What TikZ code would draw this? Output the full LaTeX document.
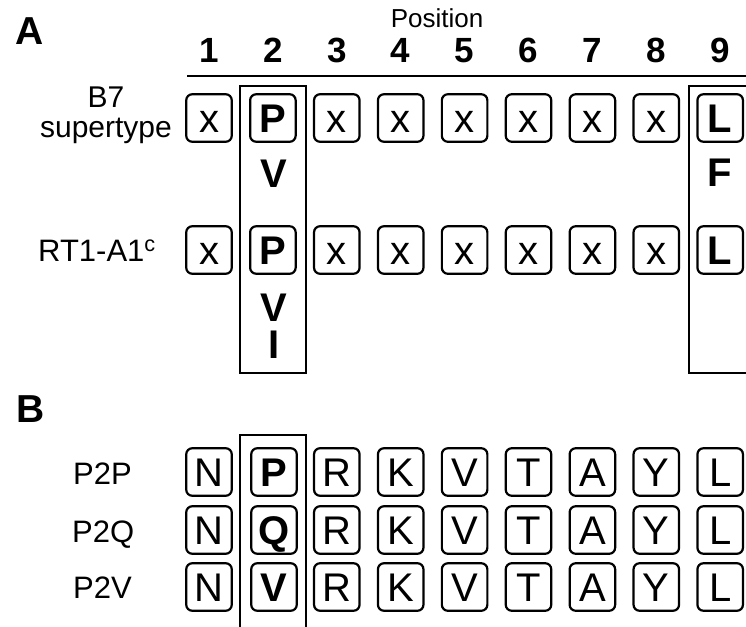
\documentclass[tikz,border=0pt]{standalone}
\usepackage{fontspec}
\setmainfont{Liberation Sans}
\begin{document}
\begin{tikzpicture}[x=1pt,y=-1pt,
  res/.style={draw, line width=2.2pt, rounded corners=6pt,
    minimum width=45.5pt, minimum height=47.5pt, inner sep=0pt,
    text height=28pt, text depth=0pt, font=\fontsize{40}{42}\selectfont},
  keyres/.style={res, font=\fontsize{40}{42}\selectfont\bfseries},
  alt/.style={inner sep=0pt, text height=28pt, text depth=0pt,
    font=\fontsize{40}{42}\selectfont\bfseries},
  panel/.style={inner sep=0pt, anchor=base west, font=\fontsize{39}{40}\selectfont\bfseries},
  posnum/.style={inner sep=0pt, anchor=base, font=\fontsize{35}{36}\selectfont\bfseries},
  rowlabel/.style={inner sep=0pt, anchor=base west, font=\fontsize{31}{33}\selectfont},
  frame/.style={line width=2pt}
]
\useasboundingbox (0,0) rectangle (746,626);
\clip (0,0) rectangle (746,626);

% panel letters
\node[panel] (labA) at (15,45) {A};
\node[panel] (labB) at (16,422) {B};

% position header
\node[inner sep=0pt, anchor=base, font=\fontsize{26}{28}\selectfont] (pos) at (437,28) {Position};
\foreach \i in {1,...,9} {
  \pgfmathsetmacro\cx{209+63.9*(\i-1)}
  \node[posnum] (n\i) at (\cx,63) {\i};
}
\coordinate (ruleL) at (187,76);
\coordinate (ruleR) at (760,76);
\draw[frame] (ruleL) -- (ruleR);

% row labels, panel A
\node[inner sep=0pt, align=center, font=\fontsize{30}{30}\selectfont] (b7) at (106,115) {B7\\supertype};
\node[rowlabel] (rt1) at (38,261) {RT1-A1\textsuperscript{c}};

% motif rows, panel A
\foreach \i/\t/\s in {1/x/res,2/P/keyres,3/x/res,4/x/res,5/x/res,6/x/res,7/x/res,8/x/res,9/L/keyres} {
  \pgfmathsetmacro\cx{209+63.9*(\i-1)}
  \node[\s] (s\i) at (\cx,118) {\t};
  \node[\s] (r\i) at (\cx,250) {\t};
}
\node[alt] (sV) at (274,173) {V};
\node[alt] (sF) at (720,172) {F};
\node[alt] (rV) at (274,307) {V};
\node[alt] (rI) at (274,344) {I};

% anchor-position frames, panel A
\draw[frame] (240,86) rectangle (306,373);
\draw[frame] (689,86) rectangle (760,373);

% peptides, panel B
\node[rowlabel] (p2p) at (73,484) {P2P};
\node[rowlabel] (p2q) at (72,542) {P2Q};
\node[rowlabel] (p2v) at (73,598) {P2V};
\foreach \row/\y/\a in {1/472/P,2/530/Q,3/587/V} {
  \foreach \i/\t in {1/N,3/R,4/K,5/V,6/T,7/A,8/Y,9/L} {
    \pgfmathsetmacro\cx{209+63.9*(\i-1)}
    \node[res] (b\row c\i) at (\cx,\y) {\t};
  }
  \node[keyres] (b\row c2) at (274,\y) {\a};
}
\draw[frame] (240,640) -- (240,435) -- (306,435) -- (306,640);
\end{tikzpicture}
\end{document}
